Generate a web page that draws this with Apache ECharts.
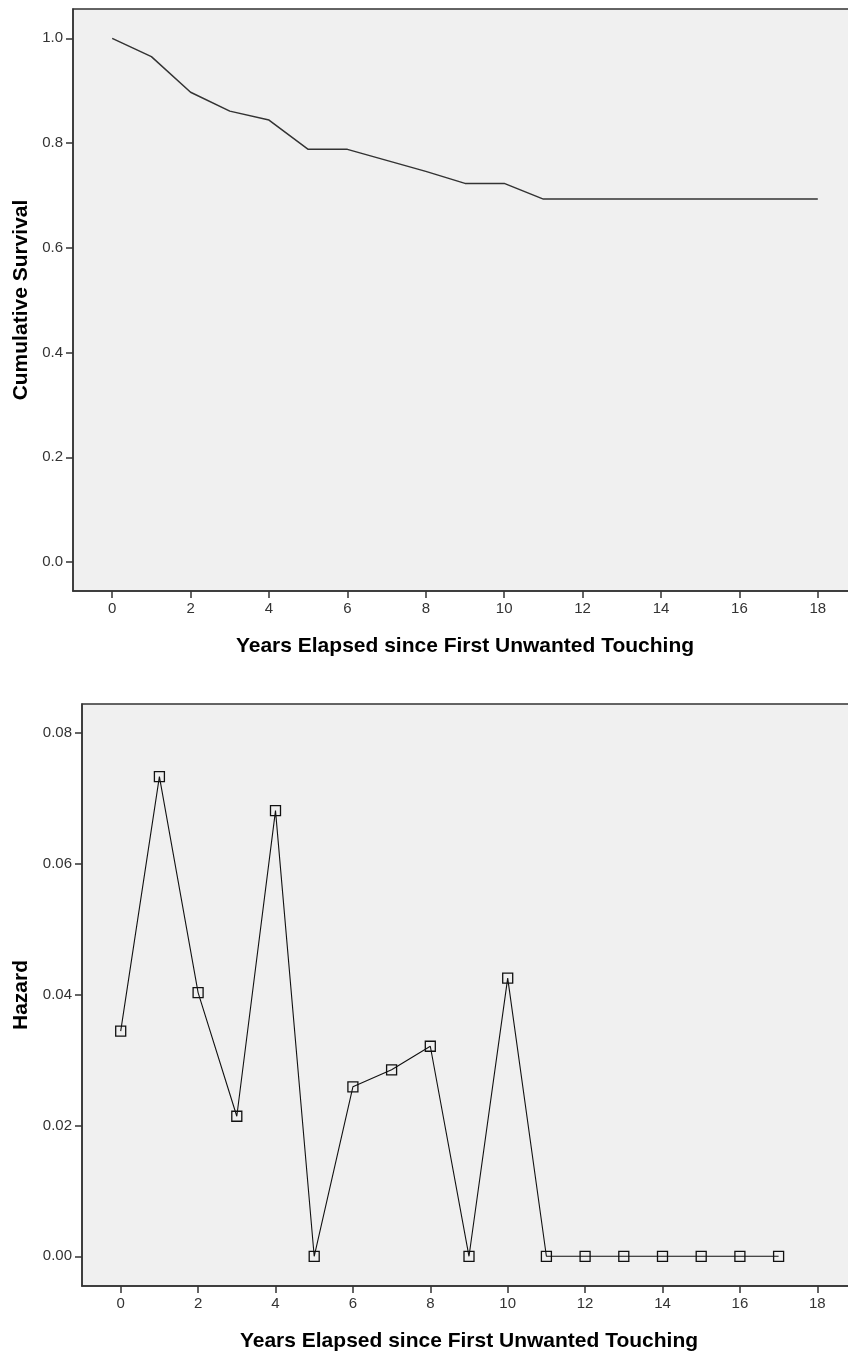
<!DOCTYPE html>
<html>
<head>
<meta charset="utf-8">
<script src="https://cdn.jsdelivr.net/npm/echarts@6/dist/echarts.min.js"></script>
<style>
html,body{margin:0;padding:0;background:#fff;}
#chart{width:848px;height:1353px;}
</style>
</head>
<body>
<div id="chart"></div>
<script>
// ---- data ----
const survivalYears = [0,1,2,3,4,5,6,7,8,9,10,11,12,13,14,15,16,17,18];
const survival = [1.0,0.965,0.897,0.861,0.844,0.788,0.788,0.767,0.746,0.723,0.723,0.693,0.693,0.693,0.693,0.693,0.693,0.693,0.693];
const hazardYears = [0,1,2,3,4,5,6,7,8,9,10,11,12,13,14,15,16,17];
const hazard = [0.0344,0.0733,0.0403,0.0214,0.0681,0,0.0259,0.0285,0.0321,0,0.0425,0,0,0,0,0,0,0];
const xTicks = [0,2,4,6,8,10,12,14,16,18];
const survivalTicks = [0,0.2,0.4,0.6,0.8,1.0];
const hazardTicks = [0,0.02,0.04,0.06,0.08];
const xTitle = 'Years Elapsed since First Unwanted Touching';
const survTitle = 'Cumulative Survival';
const hazTitle = 'Hazard';

const FONT = '"Liberation Sans", Arial, sans-serif';
const chart = echarts.init(document.getElementById('chart'), null, {renderer:'canvas'});

function xAxisCfg(gridIndex){
  return {
    type:'value', gridIndex, min:-1, max:19,
    name:xTitle, nameLocation:'middle', nameGap:45,
    nameTextStyle:{fontFamily:FONT, fontSize:21, fontWeight:'bold', color:'#000'},
    axisLine:{show:true, onZero:false, lineStyle:{color:'#333', width:1.5}},
    axisTick:{show:true, customValues:xTicks, length:7, lineStyle:{color:'#333', width:1.5}},
    axisLabel:{customValues:xTicks, fontFamily:FONT, fontSize:15, color:'#333', margin:10},
    splitLine:{show:false}
  };
}
function yAxisCfg(gridIndex, min, max, ticks, dec, name, gap){
  return {
    type:'value', gridIndex, min, max,
    name, nameLocation:'middle', nameGap:gap,
    nameTextStyle:{fontFamily:FONT, fontSize:21, fontWeight:'bold', color:'#000'},
    axisLine:{show:true, onZero:false, lineStyle:{color:'#333', width:1.5}},
    axisTick:{show:true, customValues:ticks, length:7, lineStyle:{color:'#333', width:1.5}},
    axisLabel:{customValues:ticks, fontFamily:FONT, fontSize:15, color:'#333', margin:10,
      formatter:v=>Number(v).toFixed(dec)},
    splitLine:{show:false}
  };
}

chart.setOption({
  animation:false,
  backgroundColor:'#fff',
  grid:[
    {left:73, top:9, width:784, height:582, show:true, backgroundColor:'#f0f0f0', borderColor:'#333', borderWidth:1.5, containLabel:false, outerBoundsMode:'none'},
    {left:82, top:704, width:774, height:582, show:true, backgroundColor:'#f0f0f0', borderColor:'#333', borderWidth:1.5, containLabel:false, outerBoundsMode:'none'}
  ],
  xAxis:[xAxisCfg(0), xAxisCfg(1)],
  yAxis:[
    yAxisCfg(0, -0.0553, 1.056, survivalTicks, 1, survTitle, 39),
    yAxisCfg(1, -0.00454, 0.0844, hazardTicks, 2, hazTitle, 46)
  ],
  series:[
    {type:'line', xAxisIndex:0, yAxisIndex:0,
     data:survivalYears.map((x,i)=>[x, survival[i]]),
     showSymbol:false, lineStyle:{color:'#333', width:1.5}},
    {type:'line', xAxisIndex:1, yAxisIndex:1,
     data:hazardYears.map((x,i)=>[x, hazard[i]]),
     symbol:'rect', symbolSize:10, showSymbol:true,
     itemStyle:{color:'rgba(0,0,0,0)', borderColor:'#111', borderWidth:1.3},
     lineStyle:{color:'#111', width:1.1}}
  ]
});
</script>
</body>
</html>
